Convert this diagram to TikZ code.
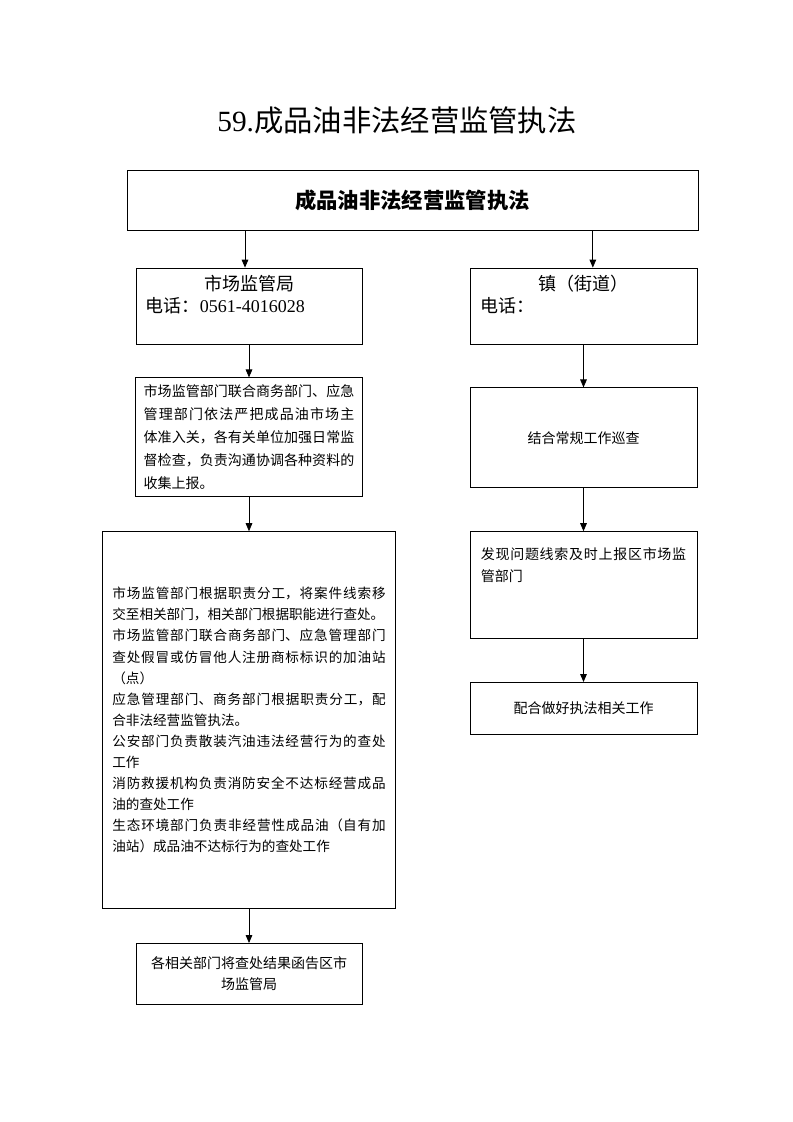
\documentclass[tikz,border=0pt]{standalone}
\usepackage{fontspec}
\setmainfont{Liberation Serif}
\newfontfamily\cjk{Noto Sans CJK SC}
\usetikzlibrary{arrows.meta, positioning}
\XeTeXlinebreaklocale "zh"
\XeTeXlinebreakskip=0pt plus 2pt
\setlength{\parindent}{0pt}

\begin{document}
\begin{tikzpicture}[x=0.75pt, y=-0.75pt,
  box/.style={rectangle, draw=black, line width=0.6pt, inner sep=0pt,
    font=\cjk\fontsize{10.5}{15.8}\selectfont},
  headtext/.style={inner sep=0pt, font=\cjk\fontsize{13.5}{16}\selectfont},
  bodytext/.style={inner sep=0pt, align=justify, font=\cjk\fontsize{10.5}{16.5}\selectfont},
  arrow/.style={-{Triangle[length=6pt, width=5pt]}, line width=0.6pt}
]
\useasboundingbox (0,0) rectangle (793,1122);

\node[font=\fontsize{22}{26}\selectfont] (title) at (397,120) {59.{\cjk 成品油非法经营监管执法}};

\node[box, minimum width=428.25pt, minimum height=45pt,
  font=\cjk\bfseries\fontsize{16}{20}\selectfont] (top) at (412.5,200) {成品油非法经营监管执法};

% left column
\node[box, minimum width=169.5pt, minimum height=57pt] (scj) at (249,306) {};
\node[headtext] (scjname) at ([yshift=-12pt]scj.north) {市场监管局};
\node[headtext, anchor=west] (scjtel) at ([xshift=7.5pt, yshift=-28.5pt]scj.north west) {电话：{\rmfamily 0561-4016028}};

\node[box, below=24.75pt of scj, minimum width=170.25pt, minimum height=89.25pt,
  text width=158pt, align=justify, font=\cjk\fontsize{10.5}{17.25}\selectfont] (check)
  {市场监管部门联合商务部门、应急\linebreak 管理部门依法严把成品油市场主\linebreak 体准入关，各有关单位加强日常监\linebreak 督检查，负责沟通协调各种资料的\linebreak 收集上报。};

\node[box, below=25.5pt of check, minimum width=219.75pt, minimum height=282.75pt,
  text width=205pt, align=justify, font=\cjk\fontsize{10.2}{15.8}\selectfont] (handle)
  {市场监管部门根据职责分工，将案件线索移\linebreak 交至相关部门，相关部门根据职能进行查处。\par
   市场监管部门联合商务部门、应急管理部门\linebreak 查处假冒或仿冒他人注册商标标识的加油站\linebreak （点）\par
   应急管理部门、商务部门根据职责分工，配\linebreak 合非法经营监管执法。\par
   公安部门负责散装汽油违法经营行为的查处\linebreak 工作\par
   消防救援机构负责消防安全不达标经营成品\linebreak 油的查处工作\par
   生态环境部门负责非经营性成品油（自有加\linebreak 油站）成品油不达标行为的查处工作};

\node[box, below=25.5pt of handle, minimum width=169.5pt, minimum height=45.75pt,
  align=center] (report) {各相关部门将查处结果函告区市\\场监管局};

% right column
\node[box, minimum width=170.25pt, minimum height=57pt] (zhen) at (583.5,306) {};
\node[headtext] (zhenname) at ([yshift=-12pt]zhen.north) {镇（街道）};
\node[headtext, anchor=west] (zhentel) at ([xshift=8.25pt, yshift=-28.5pt]zhen.north west) {电话：};

\node[box, below=32.25pt of zhen, minimum width=170.25pt, minimum height=75pt] (patrol) {结合常规工作巡查};
\node[box, below=32.25pt of patrol, minimum width=170.25pt, minimum height=80.25pt] (clue) {};
\node[bodytext, text width=154pt, anchor=north west] (cluetext) at ([xshift=8.25pt, yshift=-12pt]clue.north west)
  {发现问题线索及时上报区市场监\linebreak 管部门};
\node[box, below=32.25pt of clue, minimum width=170.25pt, minimum height=39pt] (assist) {配合做好执法相关工作};

\draw[arrow] ([xshift=-3pt]scj.north |- top.south) -- ([xshift=-3pt]scj.north);
\draw[arrow] ([xshift=7pt]zhen.north |- top.south) -- ([xshift=7pt]zhen.north);

\foreach \s/\t in {scj/check, check/handle, handle/report, zhen/patrol, patrol/clue, clue/assist}
  \draw[arrow] (\t.north |- \s.south) -- (\t.north);

\end{tikzpicture}
\end{document}
